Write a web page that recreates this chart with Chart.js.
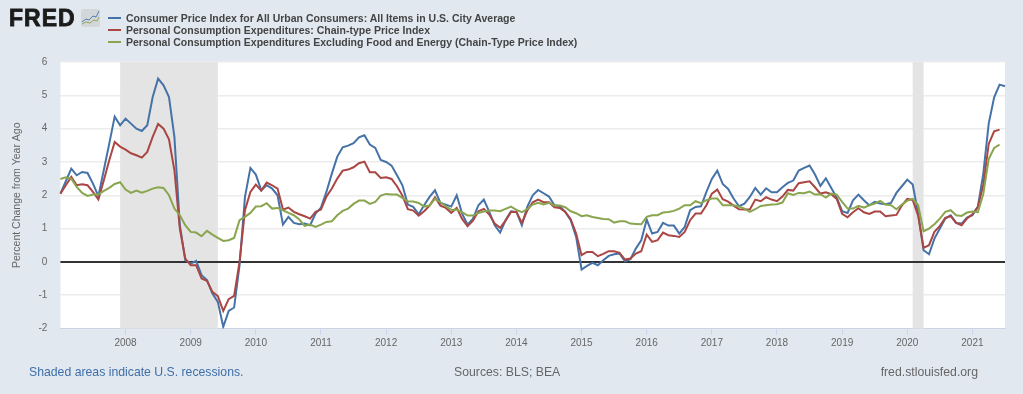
<!DOCTYPE html>
<html>
<head>
<meta charset="utf-8">
<title>FRED - CPI and PCE</title>
<script src="https://cdn.jsdelivr.net/npm/chart.js@4/dist/chart.umd.min.js"></script>
<style>
  html, body { margin: 0; padding: 0; background: #e1e8f0; }
  #wrap { position: relative; width: 1023px; height: 394px; overflow: hidden; font-family: "Liberation Sans", Arial, sans-serif; }
  canvas { position: absolute; left: 0; top: 0; }
  .logo { position: absolute; left: 9px; top: 3px; font: bold 23px/30px "Liberation Sans", Arial, sans-serif; color: #1b1b1b; -webkit-text-stroke: 0.8px #1b1b1b; letter-spacing: 1px; }
  .icon { position: absolute; left: 81px; top: 9px; }
  #legend { position: absolute; left: 108px; top: 11.5px; }
  .item { height: 12.2px; line-height: 12.2px; font-size: 10.5px; font-weight: bold; color: #444; white-space: nowrap; }
  .item i { display: inline-block; width: 13px; height: 2px; margin-right: 5px; vertical-align: 3px; }
  .foot { position: absolute; top: 365px; font-size: 12.25px; line-height: 15px; color: #666; white-space: nowrap; }
</style>
</head>
<body>
<div id="wrap">
  <canvas id="chart" width="1023" height="394"></canvas>
  <div class="logo">FRED</div>
  <svg class="icon" width="19" height="18" viewBox="0 0 19 18">
    <rect width="19" height="18" rx="2" fill="#d4d7da"/>
    <polyline points="1,13 5,10 8,11 12,7 15,8 18,2" fill="none" stroke="#4572a7" stroke-width="0.9"/>
    <polyline points="1,15 5,13 9,14 13,11 16,12 18,8" fill="none" stroke="#89a54e" stroke-width="0.9"/>
  </svg>
  <div id="legend"></div>
  <div class="foot" style="left:29px;color:#3f6fa8">Shaded areas indicate U.S. recessions.</div>
  <div class="foot" style="left:454px">Sources: BLS; BEA</div>
  <div class="foot" style="right:45px">fred.stlouisfed.org</div>
</div>

<script>
const yTicks = [-2, -1, 0, 1, 2, 3, 4, 5, 6];
const zeroLine = 0;
const axisTitle = 'Percent Change from Year Ago';

// monthly categories, Jan 2007 to Jul 2021
const years = [2007, 2008, 2009, 2010, 2011, 2012, 2013, 2014, 2015, 2016, 2017, 2018, 2019, 2020, 2021];
const months = [];
years.forEach(y => {
  for (let m = 1; m <= 12; m++) {
    if (y === 2021 && m > 7) break;
    months.push(y + '-' + String(m).padStart(2, '0'));
  }
});

const recessions = [['2007-12', '2009-06'], ['2020-02', '2020-04']];

const cpi = [
  2.05, 2.42, 2.8, 2.6, 2.7, 2.67, 2.35, 1.97, 2.76, 3.55, 4.36, 4.1,
  4.3, 4.15, 4.0, 3.93, 4.1, 4.95, 5.5, 5.3, 4.95, 3.75, 1.1, 0.05,
  -0.05, 0.03, -0.4, -0.55, -0.95, -1.2, -1.95, -1.47, -1.37, -0.1, 1.95, 2.82,
  2.62, 2.15, 2.3, 2.2, 2.0, 1.12, 1.35, 1.17, 1.13, 1.15, 1.1, 1.45,
  1.63, 2.1, 2.65, 3.16, 3.44, 3.49, 3.56, 3.74, 3.8, 3.52, 3.42, 3.06,
  3.0, 2.89, 2.6, 2.3, 1.72, 1.65, 1.43, 1.7, 1.95, 2.15, 1.77, 1.72,
  1.66, 2.0, 1.45, 1.12, 1.3, 1.7, 1.87, 1.5, 1.1, 0.88, 1.25, 1.52,
  1.5, 1.1, 1.65, 2.0, 2.16, 2.06, 1.96, 1.7, 1.67, 1.5, 1.25, 0.75,
  -0.23, -0.12, -0.03, -0.1, 0.05, 0.18, 0.23, 0.25, 0.02, 0.08, 0.4, 0.65,
  1.27, 0.85, 0.9, 1.17, 1.09, 1.09, 0.85, 1.05, 1.55, 1.65, 1.67, 2.1,
  2.49, 2.74, 2.34, 2.19, 1.9, 1.67, 1.75, 1.95, 2.22, 2.02, 2.21, 2.09,
  2.09, 2.24, 2.37, 2.44, 2.74, 2.82, 2.89, 2.62, 2.28, 2.51, 2.22, 1.93,
  1.52, 1.47, 1.85, 2.02, 1.85, 1.7, 1.8, 1.75, 1.73, 1.77, 2.07, 2.27,
  2.47, 2.32, 1.45, 0.35, 0.23, 0.7, 1.0, 1.3, 1.4, 1.17, 1.15, 1.33,
  1.4, 1.65, 2.65, 4.15, 4.94, 5.32, 5.27
];

const pce = [
  2.05, 2.3, 2.55, 2.3, 2.33, 2.3, 2.1, 1.87, 2.45, 3.05, 3.6, 3.46,
  3.37, 3.26, 3.2, 3.13, 3.3, 3.75, 4.14, 4.0, 3.68, 2.75, 1.0, 0.1,
  -0.1, -0.1, -0.5, -0.57, -0.9, -1.03, -1.47, -1.12, -1.02, 0.0, 1.55, 2.1,
  2.32, 2.14, 2.38, 2.3, 2.2, 1.57, 1.63, 1.5, 1.43, 1.37, 1.3, 1.5,
  1.57, 1.96, 2.2, 2.5, 2.74, 2.77, 2.84, 2.96, 3.01, 2.69, 2.69, 2.52,
  2.54, 2.49, 2.27, 1.99, 1.58, 1.54, 1.39, 1.52, 1.69, 1.94, 1.69, 1.62,
  1.47, 1.62, 1.29, 1.07, 1.24, 1.52, 1.59, 1.42, 1.15, 1.02, 1.24, 1.5,
  1.5, 1.17, 1.54, 1.79, 1.87, 1.79, 1.79, 1.64, 1.62, 1.5, 1.28, 0.85,
  0.2, 0.3, 0.3, 0.17, 0.24, 0.32, 0.32, 0.27, 0.07, 0.1, 0.25, 0.32,
  0.82, 0.6, 0.65, 0.88, 0.8, 0.78, 0.75, 0.9, 1.25, 1.45, 1.45, 1.7,
  2.05, 2.17, 1.88, 1.81, 1.69, 1.58, 1.57, 1.57, 1.87, 1.82, 1.94, 1.87,
  1.82, 1.96, 2.16, 2.14, 2.36, 2.39, 2.42, 2.24, 2.05, 2.09, 2.03, 1.89,
  1.44, 1.34, 1.49, 1.61, 1.49, 1.44, 1.51, 1.51, 1.37, 1.39, 1.41, 1.69,
  1.89, 1.86, 1.39, 0.42, 0.5, 0.9, 1.08, 1.32, 1.37, 1.17, 1.1, 1.3,
  1.43, 1.65, 2.3, 3.54, 3.92, 3.97
];

const core = [
  2.49, 2.54, 2.5, 2.25, 2.07, 1.98, 2.02, 2.02, 2.13, 2.22, 2.34, 2.39,
  2.17, 2.07, 2.14, 2.08, 2.13, 2.2, 2.24, 2.22, 2.0, 1.6, 1.4, 1.1,
  0.9, 0.88, 0.77, 0.93, 0.82, 0.72, 0.63, 0.65, 0.72, 1.25, 1.35, 1.47,
  1.66, 1.67, 1.76, 1.6, 1.62, 1.55, 1.47, 1.4, 1.27, 1.08, 1.12, 1.05,
  1.12, 1.2, 1.22, 1.4, 1.53, 1.6, 1.74, 1.84, 1.84, 1.74, 1.8, 1.99,
  2.04, 2.02, 2.02, 1.92, 1.82, 1.81, 1.77, 1.66, 1.69, 1.89, 1.79, 1.67,
  1.56, 1.57, 1.49, 1.39, 1.39, 1.47, 1.51, 1.54, 1.54, 1.52, 1.59, 1.66,
  1.56, 1.49, 1.59, 1.72, 1.77, 1.72, 1.77, 1.69, 1.69, 1.64, 1.52, 1.46,
  1.37, 1.4, 1.35, 1.32, 1.29, 1.28, 1.18, 1.22, 1.22, 1.15, 1.14, 1.13,
  1.35, 1.4, 1.4, 1.48, 1.5, 1.53, 1.6, 1.7, 1.7, 1.82, 1.76, 1.85,
  1.9, 1.9, 1.7, 1.7, 1.7, 1.66, 1.6, 1.5, 1.58, 1.68, 1.7, 1.72,
  1.73, 1.78, 2.06, 2.01, 2.07, 2.06, 2.11, 2.02, 2.03, 1.93, 2.05, 2.02,
  1.8, 1.6, 1.6, 1.68, 1.63, 1.7, 1.75, 1.83, 1.72, 1.7, 1.58, 1.72,
  1.84, 1.89, 1.7, 0.92, 1.0, 1.13, 1.3, 1.5, 1.55, 1.4, 1.38, 1.48,
  1.51, 1.49, 2.04, 3.09, 3.42, 3.52
];

const seriesNames = [
  'Consumer Price Index for All Urban Consumers: All Items in U.S. City Average',
  'Personal Consumption Expenditures: Chain-type Price Index',
  'Personal Consumption Expenditures Excluding Food and Energy (Chain-Type Price Index)'
];
const seriesColors = ['#4572a7', '#aa4643', '#89a54e'];

// legend is html so it can sit next to the logo
document.getElementById('legend').innerHTML = seriesNames.map((n, i) =>
  `<div class="item"><i style="background:${seriesColors[i]}"></i>${n}</div>`).join('');

// white plot background, recession bands and the zero line
const plotDecor = {
  id: 'plotDecor',
  beforeDraw(chart) {
    const { ctx, chartArea: a } = chart;
    ctx.save();
    ctx.fillStyle = '#fff';
    ctx.fillRect(a.left, a.top, a.width, a.height);
    ctx.restore();
  },
  beforeDatasetsDraw(chart) {
    const { ctx, chartArea: a, scales: { x, y } } = chart;
    ctx.save();
    ctx.fillStyle = '#e4e4e4';
    recessions.forEach(([from, to]) => {
      const x0 = x.getPixelForValue(months.indexOf(from));
      const x1 = x.getPixelForValue(months.indexOf(to));
      ctx.fillRect(x0, a.top, x1 - x0, a.height);
    });
    ctx.strokeStyle = '#333';
    ctx.lineWidth = 2;
    ctx.beginPath();
    ctx.moveTo(a.left, y.getPixelForValue(zeroLine));
    ctx.lineTo(a.right, y.getPixelForValue(zeroLine));
    ctx.stroke();
    ctx.restore();
  }
};

const line = (data, color, order) => ({
  data, borderColor: color, borderWidth: 2, pointRadius: 0, tension: 0, fill: false, order
});

const tickFont = { family: '"Liberation Sans"', size: 10 };

new Chart(document.getElementById('chart').getContext('2d'), {
  type: 'line',
  data: {
    labels: months,
    datasets: [
      line(cpi, seriesColors[0], 2),
      line(pce, seriesColors[1], 1),
      line(core, seriesColors[2], 0)
    ]
  },
  options: {
    responsive: false,
    animation: false,
    layout: { padding: { left: 0, right: 18, top: 62, bottom: 0 } },
    plugins: { legend: { display: false }, tooltip: { enabled: false } },
    scales: {
      x: {
        type: 'category',
        offset: false,
        afterBuildTicks(scale) {
          scale.ticks = scale.ticks.filter(t => {
            const l = months[t.value];
            return l.endsWith('-01') && l !== '2007-01';
          });
        },
        afterFit(scale) { scale.height = 65.5; },
        grid: { drawOnChartArea: false, color: '#c9d4e8', tickLength: 6 },
        border: { color: '#c9d4e8' },
        ticks: {
          autoSkip: false, maxRotation: 0, padding: 3, color: '#666', font: tickFont,
          callback(v) { return months[v].slice(0, 4); }
        }
      },
      y: {
        min: yTicks[0],
        max: yTicks[yTicks.length - 1],
        afterBuildTicks(scale) { scale.ticks = yTicks.map(value => ({ value })); },
        afterFit(scale) { scale.width = 60.4; },
        grid: { color: '#ececec', lineWidth: 1.5, drawTicks: false },
        border: { display: false },
        title: {
          display: true, text: axisTitle, color: '#666',
          font: { family: '"Liberation Sans"', size: 10.5 },
          padding: { top: 11, bottom: 0 }
        },
        ticks: { padding: 13, color: '#666', font: tickFont }
      }
    }
  },
  plugins: [plotDecor]
});
</script>
</body>
</html>
